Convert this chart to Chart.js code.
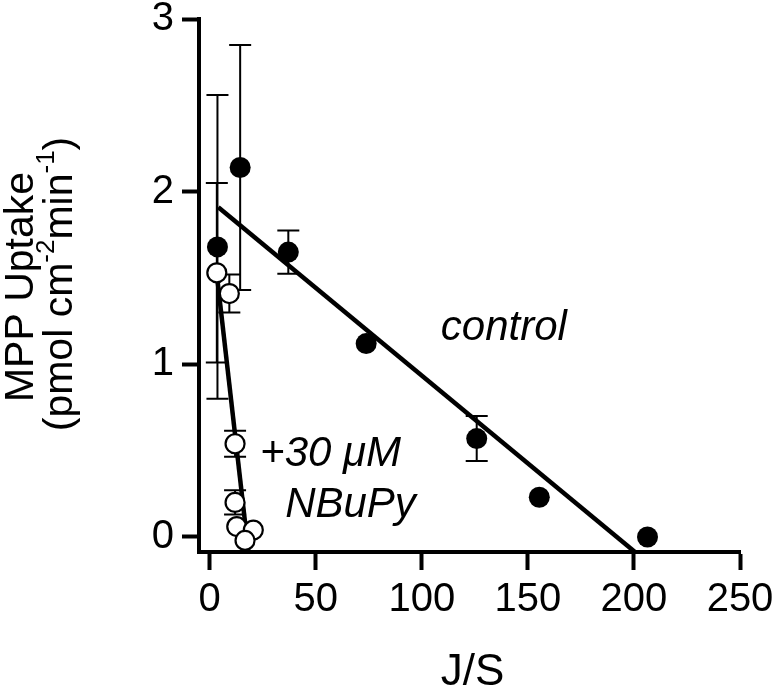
<!DOCTYPE html>
<html>
<head>
<meta charset="utf-8">
<script src="https://cdn.jsdelivr.net/npm/chart.js@4.4.0/dist/chart.umd.min.js"></script>
<style>
  html, body { margin: 0; padding: 0; background: #fff; }
  canvas { display: block; }
</style>
</head>
<body>
<canvas id="chart" width="772" height="690"></canvas>
<script>
// values
const controlX = [3.7, 14.4, 37.1, 73.8, 125.9, 155.4, 206.4];
const controlY = [1.68, 2.14, 1.65, 1.12, 0.57, 0.23, 0.0];
const controlErr = [0.88, 0.71, 0.125, 0, 0.13, 0, 0];

const nbupyX = [3.4, 9.3, 12.0, 12.0, 12.8, 20.6, 16.7];
const nbupyY = [1.53, 1.41, 0.54, 0.20, 0.06, 0.04, -0.02];
const nbupyErr = [0.52, 0.11, 0.075, 0.07, 0, 0, 0];

const controlFitX = [4.1, 200.5];
const controlFitY = [1.91, -0.087];
const nbupyFitX = [3.4, 18.3];
const nbupyFitY = [1.52, -0.087];

const xTicks = [0, 50, 100, 150, 200, 250];
const yTicks = [0, 1, 2, 3];

const FONT = '"Liberation Sans", Arial, Helvetica, sans-serif';

const toPts = (xs, ys) => xs.map((x, i) => ({ x: x, y: ys[i] }));

// error bars, drawn under the markers
const errorBars = {
    id: 'errorBars',
    beforeDatasetsDraw(chart) {
        const ctx = chart.ctx;
        const xs = chart.scales.x;
        const ys = chart.scales.y;
        ctx.save();
        ctx.strokeStyle = '#000';
        ctx.lineWidth = 2;
        const draw = (px, py, err) => {
            px.forEach((x, i) => {
                if (!err[i]) return;
                const cx = xs.getPixelForValue(x);
                const top = ys.getPixelForValue(py[i] + err[i]);
                const bot = ys.getPixelForValue(py[i] - err[i]);
                ctx.beginPath();
                ctx.moveTo(cx, top); ctx.lineTo(cx, bot);
                ctx.moveTo(cx - 11, top); ctx.lineTo(cx + 11, top);
                ctx.moveTo(cx - 11, bot); ctx.lineTo(cx + 11, bot);
                ctx.stroke();
            });
        };
        draw(controlX, controlY, controlErr);
        draw(nbupyX, nbupyY, nbupyErr);
        ctx.restore();
    }
};

// axis titles and in-plot labels
const labels = {
    id: 'labels',
    afterDraw(chart) {
        const ctx = chart.ctx;
        const xs = chart.scales.x;
        const ys = chart.scales.y;
        ctx.save();
        ctx.fillStyle = '#000';

        // x title
        ctx.font = '44px ' + FONT;
        ctx.textAlign = 'center';
        ctx.textBaseline = 'middle';
        ctx.fillText('J/S', (chart.chartArea.left + chart.chartArea.right) / 2 + 3, 673);

        // y title, two lines, rotated
        ctx.save();
        ctx.rotate(-Math.PI / 2);
        ctx.textAlign = 'left';
        ctx.textBaseline = 'alphabetic';
        ctx.font = '41px ' + FONT;
        const l1 = 'MPP Uptake';
        const w1 = ctx.measureText(l1).width;
        ctx.fillText(l1, -287 - w1 / 2, 33);

        const parts = [
            ['(pmol cm', false], ['-2', true], ['min', false], ['-1', true], [')', false]
        ];
        const big = '41px ' + FONT;
        const small = '26px ' + FONT;
        let total = 0;
        parts.forEach(p => { ctx.font = p[1] ? small : big; total += ctx.measureText(p[0]).width; });
        let pos = -284 - total / 2;
        parts.forEach(p => {
            ctx.font = p[1] ? small : big;
            ctx.fillText(p[0], pos, p[1] ? 54 : 72);
            pos += ctx.measureText(p[0]).width;
        });
        ctx.restore();

        // annotations
        ctx.font = 'italic 42px ' + FONT;
        ctx.textAlign = 'left';
        ctx.textBaseline = 'alphabetic';
        ctx.fillText('control', xs.getPixelForValue(109), ys.getPixelForValue(1.14));
        ctx.fillText('+30 \u03bcM', xs.getPixelForValue(23.8), ys.getPixelForValue(0.41));
        ctx.fillText('NBuPy', xs.getPixelForValue(35.6), ys.getPixelForValue(0.116));
        ctx.restore();
    }
};

const axisCommon = {
    type: 'linear',
    border: { display: true, width: 4, color: '#000' },
    grid: { drawOnChartArea: false, drawTicks: true, tickLength: 17, tickWidth: 4, tickColor: '#000' },
    ticks: { color: '#000', font: { family: FONT, size: 40 }, maxRotation: 0, autoSkip: false }
};

new Chart(document.getElementById('chart'), {
    type: 'scatter',
    data: {
        datasets: [
            {
                label: '+30 \u03bcM NBuPy',
                data: toPts(nbupyX, nbupyY),
                pointRadius: 9.5,
                pointBackgroundColor: '#fff',
                pointBorderColor: '#000',
                pointBorderWidth: 2.2,
                order: 0
            },
            {
                label: 'control',
                data: toPts(controlX, controlY),
                pointRadius: 10.5,
                pointBackgroundColor: '#000',
                pointBorderColor: '#000',
                pointBorderWidth: 0,
                order: 1
            },
            {
                type: 'line',
                label: 'control fit',
                data: toPts(controlFitX, controlFitY),
                borderColor: '#000',
                borderWidth: 4.5,
                pointRadius: 0,
                fill: false,
                order: 2
            },
            {
                type: 'line',
                label: 'NBuPy fit',
                data: toPts(nbupyFitX, nbupyFitY),
                borderColor: '#000',
                borderWidth: 4.5,
                pointRadius: 0,
                fill: false,
                order: 3
            }
        ]
    },
    options: {
        responsive: false,
        animation: false,
        layout: { padding: { top: 19, right: 32, left: 0, bottom: 0 } },
        plugins: { legend: { display: false }, tooltip: { enabled: false } },
        scales: {
            x: Object.assign({}, axisCommon, {
                min: -5, max: 250,
                afterBuildTicks: s => { s.ticks = xTicks.map(v => ({ value: v })); },
                afterFit: s => { s.height = 138; s.paddingLeft = 0; s.paddingRight = 0; },
                grid: Object.assign({}, axisCommon.grid, { tickLength: 18 }),
                ticks: Object.assign({}, axisCommon.ticks, { padding: 6 })
            }),
            y: Object.assign({}, axisCommon, {
                min: -0.087, max: 3,
                afterBuildTicks: s => { s.ticks = yTicks.map(v => ({ value: v })); },
                afterFit: s => { s.width = 199; s.paddingTop = 0; s.paddingBottom = 0; },
                ticks: Object.assign({}, axisCommon.ticks, { padding: 8 })
            })
        }
    },
    plugins: [errorBars, labels]
});
</script>
</body>
</html>
